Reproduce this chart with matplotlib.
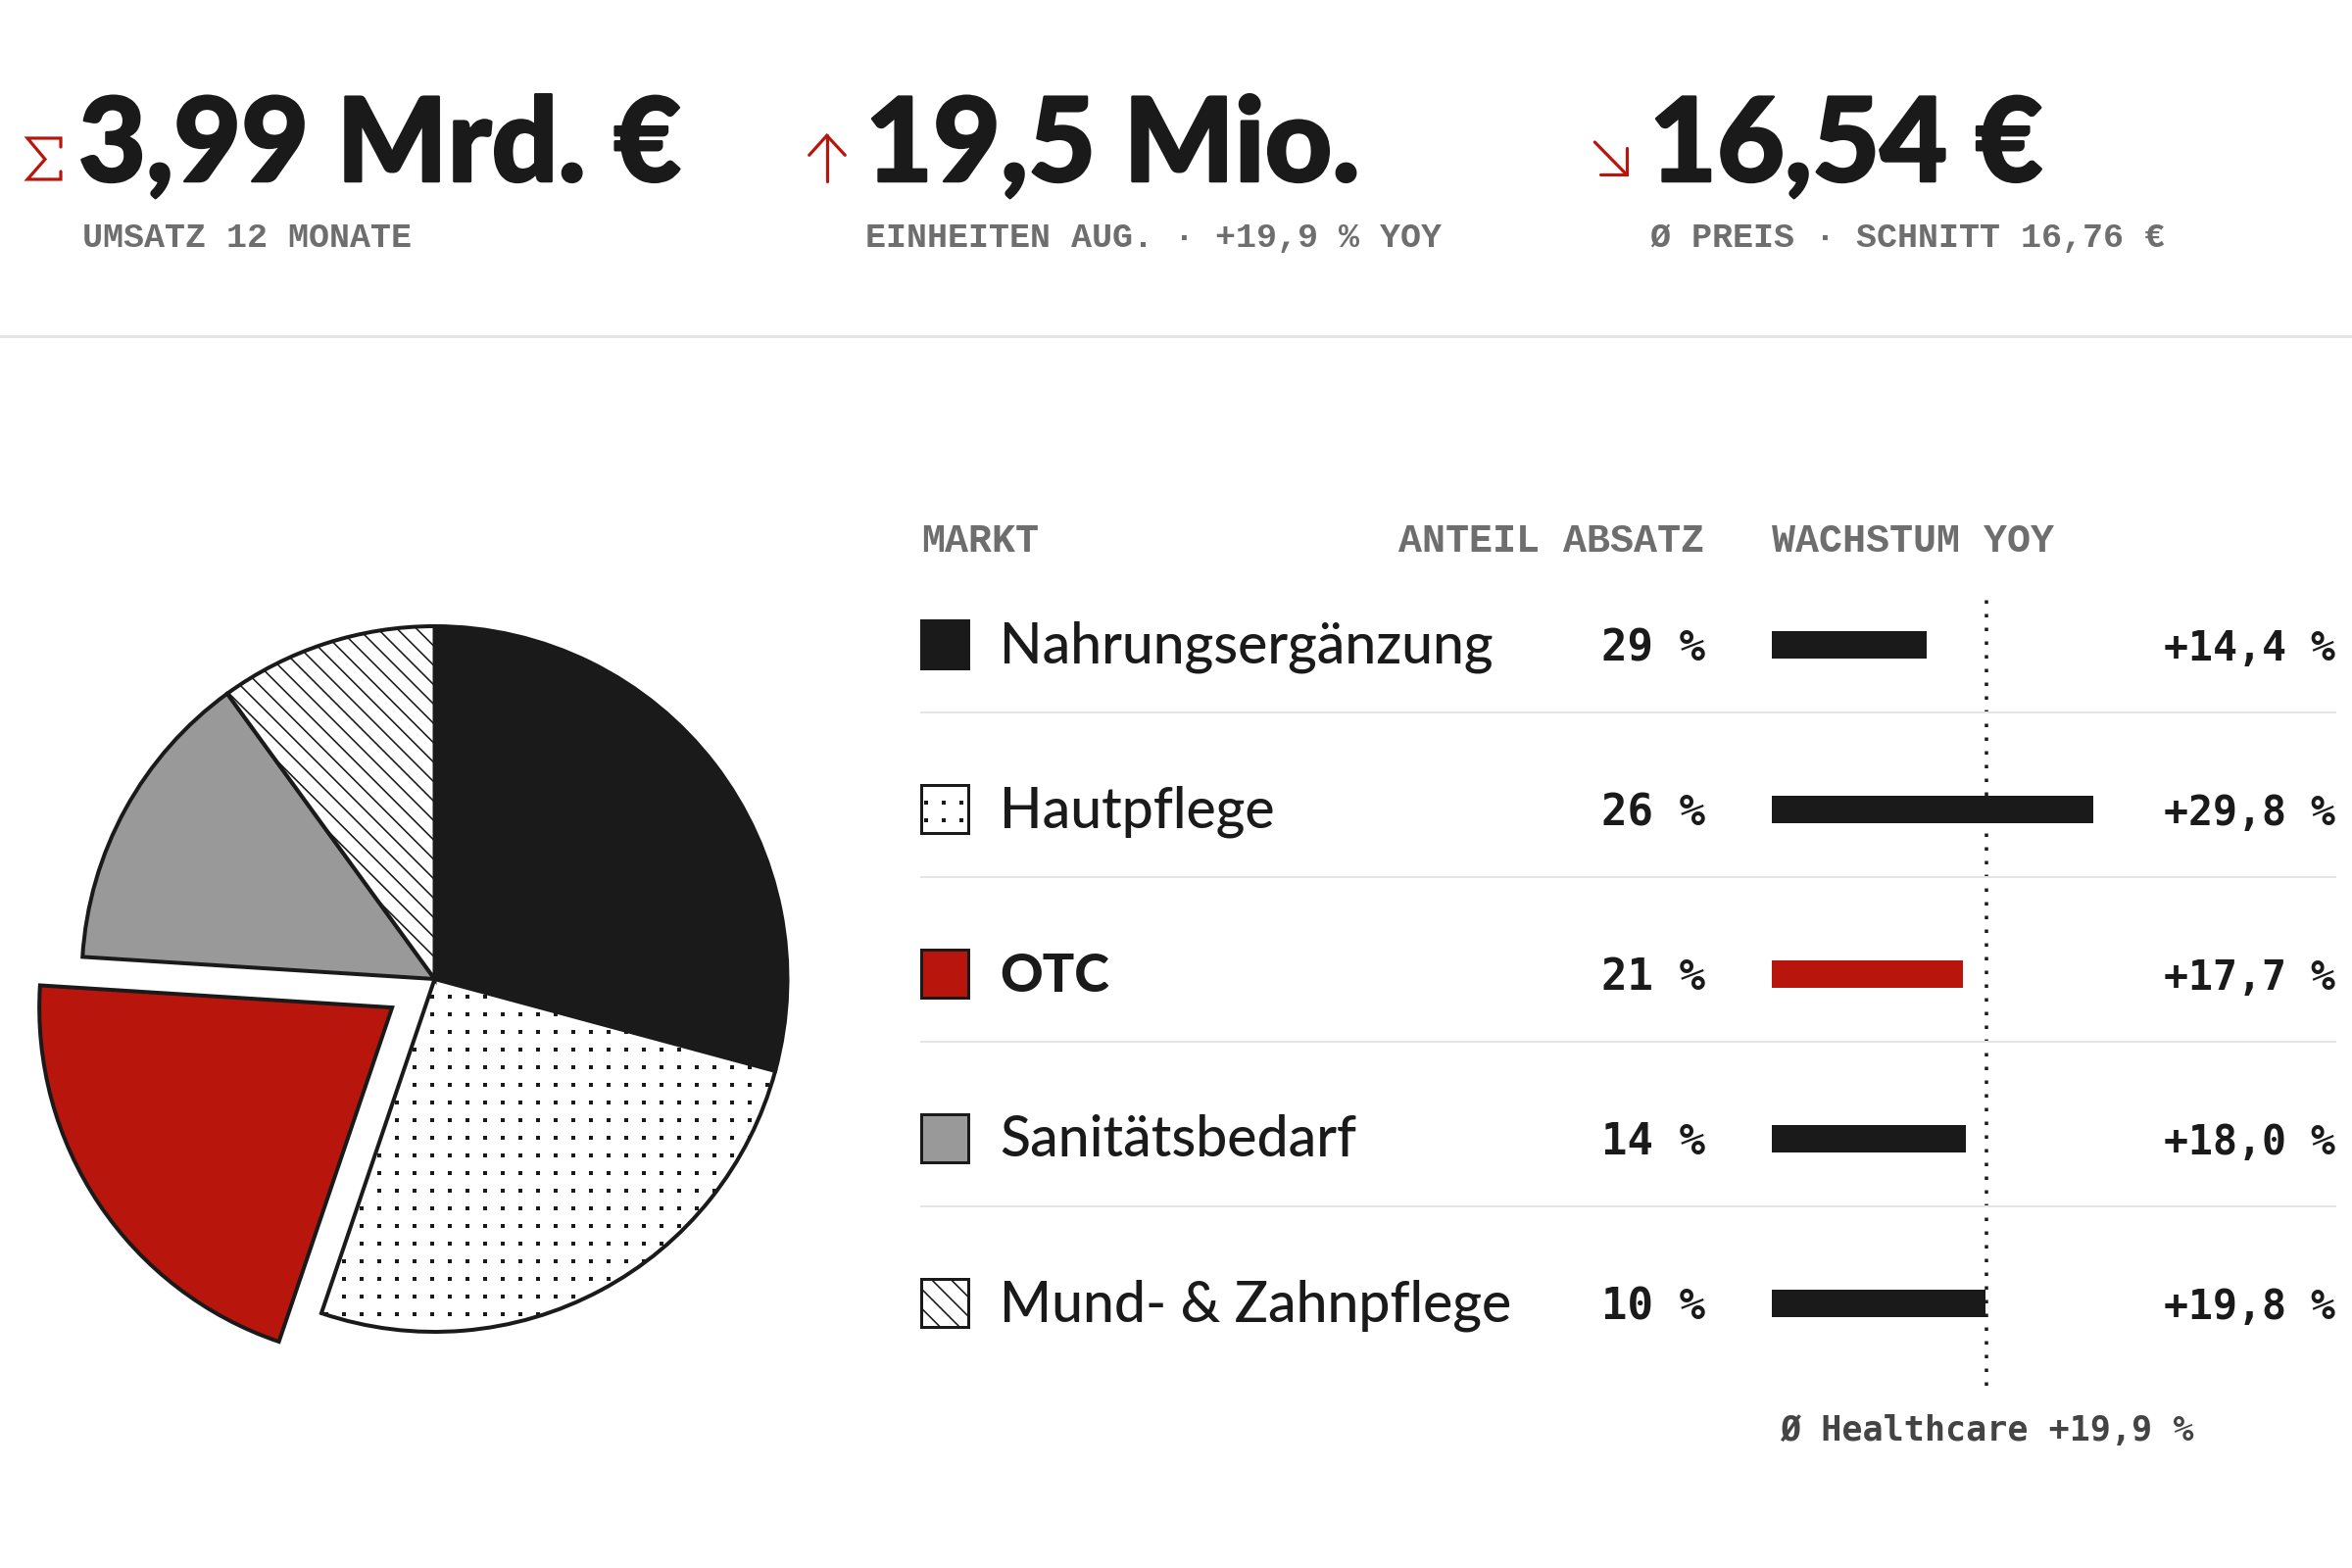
import numpy as np
import matplotlib
matplotlib.use('Agg')
import matplotlib.pyplot as plt
import matplotlib.patheffects as pe
from matplotlib.collections import LineCollection
from matplotlib.patches import Rectangle

W, H = 2400, 1600
INK = '#1a1a1a'
RED = '#b8160c'
GREY = '#999999'
MUTED = '#6e6e6e'
RULE = '#e5e5e5'

kpi_values = ['3,99 Mrd. €', '19,5 Mio.', '16,54 €']
kpi_labels = ['UMSATZ 12 MONATE', 'EINHEITEN AUG. · +19,9 % YOY', 'Ø PREIS · SCHNITT 16,76 €']

markets = ['Nahrungsergänzung', 'Hautpflege', 'OTC', 'Sanitätsbedarf', 'Mund- & Zahnpflege']
shares = [29, 26, 21, 14, 10]
# slice sizes as measured on the pie, labels above are rounded
slices = [29.2, 26.0, 20.8, 14.0, 10.0]
growth = [14.4, 29.8, 17.7, 18.0, 19.8]
avg_growth = 19.9
explode = [0, 0, 0.145, 0, 0]
fills = [INK, 'white', RED, GREY, 'white']
patterns = [None, 'dots', None, None, 'lines']
bar_colors = [INK, INK, RED, INK, INK]

SANS = 'Lato'
MONO_HEAD = 'Liberation Mono'
MONO_VAL = 'DejaVu Sans Mono'


def px(v):
    # pixel to points at dpi 100
    return v * 0.72


def add_pattern(ax, clip, kind, box):
    x0, y0, x1, y1 = box
    if kind == 'dots':
        xs = np.arange(x0 - (x0 - 441) % 18, x1 + 18, 18)
        ys = np.arange(y0 - (y0 - 1017) % 18, y1 + 18, 18)
        gx, gy = np.meshgrid(xs, ys)
        art = ax.scatter(gx.ravel(), gy.ravel(), s=8.5, marker='s', c=INK, linewidths=0, zorder=3)
    else:
        step = 19.8
        c_min = y0 - x1
        c_max = y1 - x0
        cs = np.arange(c_min - (c_min - 533.3) % step, c_max + step, step)
        segs = [[(x0, x0 + c), (x1, x1 + c)] for c in cs]
        art = LineCollection(segs, colors=INK, linewidths=px(1.6), zorder=3)
        ax.add_collection(art)
    art.set_clip_path(clip)


fig = plt.figure(figsize=(W / 100, H / 100), dpi=100, facecolor='white')

# pie
cx, cy, r = 443.5, 999, 360
pie_ax = fig.add_axes([0, 1 - 1420 / H, 900 / W, 840 / H])
wedges, _ = pie_ax.pie(slices, explode=explode, startangle=90, counterclock=False, colors=fills,
                       radius=1, wedgeprops={'edgecolor': INK, 'linewidth': px(4), 'joinstyle': 'miter'})
pie_ax.set_xlim((0 - cx) / r, (900 - cx) / r)
pie_ax.set_ylim((cy - 1420) / r, (cy - 580) / r)

# bars, x in percent and y in row index
row0, row_step = 657.5, 168
x0_bar, per_pct = 1808, 10.99
bar_ax = fig.add_axes([x0_bar / W, 1 - 1440 / H, (W - x0_bar) / W, 840 / H])
bar_ax.barh(np.arange(len(markets)), growth, height=28 / row_step, color=bar_colors)
bar_ax.set_xlim(0, (W - x0_bar) / per_pct)
bar_ax.set_ylim((1440 - row0) / row_step, (600 - row0) / row_step)
bar_ax.axvline(avg_growth, ymin=(1440 - 1413.5) / 840, ymax=(1440 - 612) / 840, color=INK,
               linewidth=px(3.5), linestyle=(0, (1, 3)), dash_capstyle='butt')
bar_ax.axis('off')

# overlay in pixel coordinates for text, rules, swatches and icons
ov = fig.add_axes([0, 0, 1, 1], facecolor='none')
ov.set_xlim(0, W)
ov.set_ylim(H, 0)
ov.axis('off')

ov.plot([0, W], [343, 343], color=RULE, linewidth=px(3))

kpi_x = [80, 883, 1683]
kpi_sub_x = [84, 883, 1684]
for i in range(3):
    ov.text(kpi_x[i], 185, kpi_values[i], fontsize=px(119), fontweight='black', family=SANS,
            color=INK, va='baseline', ha='left',
            path_effects=[pe.withStroke(linewidth=px(2.5), foreground=INK)])
    ov.text(kpi_sub_x[i], 252, kpi_labels[i], fontsize=px(35), fontweight='bold', family=MONO_HEAD,
            color=MUTED, va='baseline', ha='left')

# small kpi icons
icon_lines = [
    [[(62, 150), (62, 141), (28, 141), (46, 162.5), (28, 183), (62, 183), (62, 175)]],
    [[(843.7, 185), (843.7, 138.3)], [(825.7, 158.3), (843.7, 138.3), (862.3, 158.3)]],
    [[(1627.3, 145), (1660, 178.3)], [(1660, 151), (1660, 178.3), (1633.3, 178.3)]],
]
for icon in icon_lines:
    for pts in icon:
        xs, ys = zip(*pts)
        ov.plot(xs, ys, color=RED, linewidth=px(3.2), solid_capstyle='round', solid_joinstyle='miter')

ov.text(940, 563, 'MARKT', fontsize=px(40), fontweight='bold', family=MONO_HEAD, color=MUTED)
ov.text(1739, 563, 'ANTEIL ABSATZ', fontsize=px(40), fontweight='bold', family=MONO_HEAD, color=MUTED, ha='right')
ov.text(1808, 563, 'WACHSTUM YOY', fontsize=px(40), fontweight='bold', family=MONO_HEAD, color=MUTED)

for i, name in enumerate(markets):
    y = row0 + row_step * i
    sw = Rectangle((939.5, y - 24.5), 48.5, 48.5, facecolor=fills[i], edgecolor=INK, linewidth=px(3), zorder=2)
    ov.add_patch(sw)
    if patterns[i]:
        add_pattern(ov, sw, patterns[i], (939, y - 25, 989, y + 25))
    is_otc = name == 'OTC'
    ov.text(1020, y + 19, name, fontsize=px(54 if is_otc else 57), family=SANS, color=INK,
            fontweight='black' if is_otc else 'medium', va='baseline')
    ov.text(1740, y + 17, f'{shares[i]} %', fontsize=px(44), fontweight='bold', family=MONO_VAL,
            color=INK, ha='right', va='baseline')
    ov.text(2383, y + 17, f'+{growth[i]:.1f} %'.replace('.', ','), fontsize=px(41.5), fontweight='bold',
            family=MONO_VAL, color=INK, ha='right', va='baseline')
    if i < len(markets) - 1:
        ov.plot([940, 2383], [y + 69.5, y + 69.5], color=RULE, linewidth=px(2))

for w, kind in zip(wedges, patterns):
    if kind:
        add_pattern(ov, w, kind, (0, 580, 900, 1420))

ov.text(2027, 1470, 'Ø Healthcare +19,9 %', fontsize=px(35), fontweight='bold', family=MONO_VAL,
        color='#444444', ha='center', va='baseline')

fig.savefig('out.png', dpi=100, facecolor='white')
